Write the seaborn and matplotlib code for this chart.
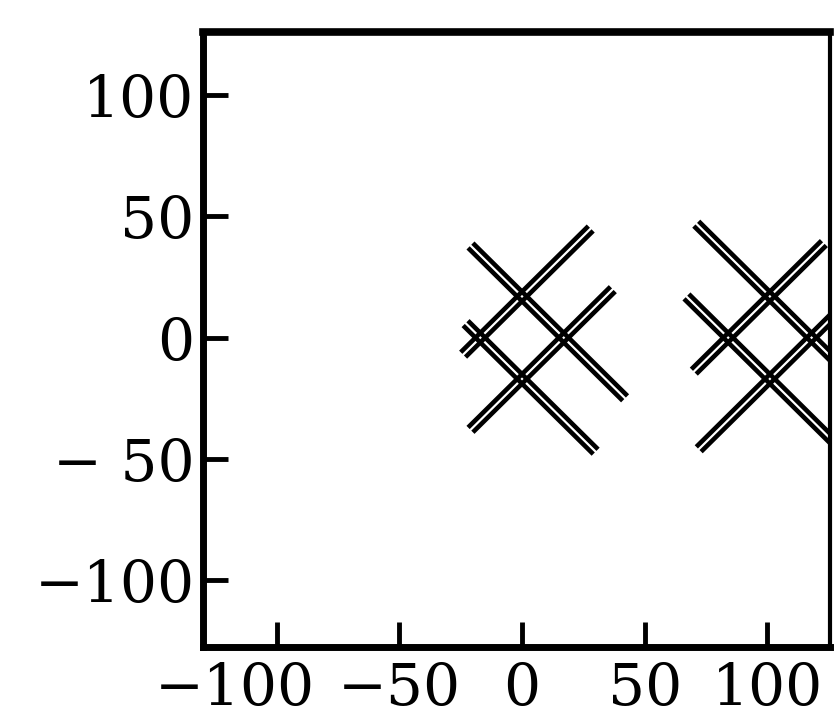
import numpy as np
import pandas as pd
import matplotlib
matplotlib.use("Agg")
import matplotlib.pyplot as plt
import matplotlib.transforms as mtransforms
import seaborn as sns

# ---- data ----
group_cx = [0, 101]          # centre of each crossed-line group
group_cy = [0, 0]
half_diag = 17               # half diagonal of the central diamond
line_slope = [-1, -1, 1, 1]  # slope of each of the four lines
line_side = [1, -1, 1, -1]   # which side of the centre the line passes
# start / end of each line, relative to the group centre (x units)
g1_start = [-21, -23, -24, -21]
g1_end = [42, 30, 28, 37]
g2_start = [-30, -34, -31, -29]
g2_end = [40, 40, 22, 40]
xticks = [-100, -50, 0, 50, 100]
xticklabels = ["\u2212100", "\u221250", "0", "50", "100"]
yticks = [-100, -50, 0, 50, 100]
yticklabels = ["\u2212100", "\u2212 50", "0", "50", "100"]

rows = []
for g, (cx, cy, st, en) in enumerate(zip(group_cx, group_cy,
                                         [g1_start, g2_start], [g1_end, g2_end])):
    for i in range(4):
        for rx in (st[i], en[i]):
            x = cx + rx
            y = cy + line_slope[i] * rx + line_side[i] * half_diag
            rows.append({"seg": f"{g}-{i}", "x": x, "y": y, "slope": line_slope[i]})
df = pd.DataFrame(rows)

sns.set_style("ticks")
plt.rcParams["font.family"] = ["DejaVu Serif", "DejaVu Sans"]

W, H = 834, 719
fig = plt.figure(figsize=(W / 100, H / 100), dpi=100)
ax = fig.add_axes([203 / W, 1 - 647 / H, (830 - 203) / W, (647 - 32) / H])

gap = 3.4  # half distance between the two strokes, in dots
for slope in (-1, 1):
    sub = df[df["slope"] == slope]
    for sgn in (-1, 1):
        n0 = len(ax.lines)
        sns.lineplot(data=sub, x="x", y="y", units="seg", estimator=None,
                     sort=False, color="black", linewidth=3.3, ax=ax,
                     legend=False)
        # perpendicular offset of a 45-degree line
        dx = sgn * gap / np.sqrt(2)
        dy = -slope * sgn * gap / np.sqrt(2)
        tr = mtransforms.offset_copy(ax.transData, fig=fig, x=dx, y=dy, units="dots")
        for ln in ax.lines[n0:]:
            ln.set_transform(tr)
            ln.set_solid_capstyle("butt")

ax.set_xlim(-130, 125.5)
ax.set_ylim(-127.5, 126)
ax.set_xticks(xticks)
ax.set_xticklabels(xticklabels)
ax.set_yticks(yticks)
ax.set_yticklabels(yticklabels)
ax.set_xlabel("")
ax.set_ylabel("")

for side, lw in (("left", 5), ("bottom", 5), ("top", 5.5), ("right", 3)):
    ax.spines[side].set_visible(True)
    ax.spines[side].set_linewidth(lw)
    ax.spines[side].set_color("black")

ax.tick_params(axis="both", direction="in", length=18, width=3.5,
               labelsize=42, colors="black")
ax.tick_params(axis="y", pad=6)
ax.tick_params(axis="x", pad=10)

# the leftmost x label sits shifted left in the reference
lab0 = ax.get_xticklabels()[0]
lab0.set_transform(lab0.get_transform() +
                   mtransforms.ScaledTranslation(-42 / 100, 0, fig.dpi_scale_trans))

fig.savefig("out.png", dpi=100, facecolor="white")
